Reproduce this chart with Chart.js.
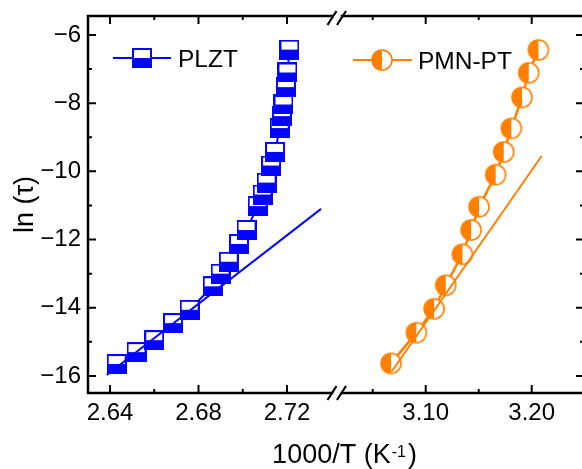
<!DOCTYPE html>
<html>
<head>
<meta charset="utf-8">
<script src="https://cdn.jsdelivr.net/npm/chart.js@4/dist/chart.umd.min.js"></script>
<style>
    html, body { margin: 0; padding: 0; background: #fff; overflow: hidden; }
    #wrap { position: relative; width: 586px; height: 469px; }
</style>
</head>
<body>
<div id="wrap"><canvas id="tau-chart"></canvas></div>
<script>
// PLZT : 1000/T vs ln(tau)
var plztX = [2.6430, 2.6520, 2.6600, 2.6685, 2.6760, 2.6864, 2.6900, 2.6937, 2.6983, 2.7017, 2.7067,
             2.7090, 2.7108, 2.7128, 2.7146, 2.7167, 2.7177, 2.7184, 2.7195, 2.7202, 2.7211];
var plztY = [-15.65, -15.30, -14.95, -14.45, -14.06, -13.37, -13.00, -12.65, -12.13, -11.72, -11.02,
             -10.68, -10.33, -9.83, -9.43, -8.73, -8.38, -8.04, -7.53, -7.10, -6.43];
var plztFitX = [2.6385, 2.7354];
var plztFitY = [-15.97, -11.10];

// PMN-PT
var pmnX = [3.0673, 3.0912, 3.1079, 3.1189, 3.1346, 3.1428, 3.1503, 3.1660, 3.1736, 3.1808, 3.1909, 3.1972, 3.2063];
var pmnY = [-15.63, -14.73, -14.03, -13.34, -12.43, -11.72, -11.04, -10.10, -9.43, -8.74, -7.83, -7.11, -6.44];
var pmnFitX = [3.0679, 3.2094];
var pmnFitY = [-15.87, -9.55];

// axis ticks (broken x axis: two panels)
var leftTicks = [2.64, 2.66, 2.68, 2.70, 2.72];
var leftLabels = ['2.64', '', '2.68', '', '2.72'];
var rightTicks = [3.05, 3.10, 3.15, 3.20];
var rightLabels = ['', '3.10', '', '3.20'];
var yTicks = [-16, -15, -14, -13, -12, -11, -10, -9, -8, -7, -6];
var yLabels = ['\u221216', '', '\u221214', '', '\u221212', '', '\u221210', '', '\u22128', '', '\u22126'];

var BLUE = '#0505ff';
var ORANGE = '#ff8000';
var FONT = "Arial, 'Liberation Sans', sans-serif";

function pairs(xs, ys) {
    return xs.map(function(x, i) { return { x: x, y: ys[i] }; });
}

function squareMarker(color) {
    var c = document.createElement('canvas');
    c.width = 20; c.height = 20;
    var g = c.getContext('2d');
    g.fillStyle = '#fff';
    g.fillRect(0, 0, 20, 20);
    g.fillStyle = color;
    g.fillRect(0, 10, 20, 10);
    g.strokeStyle = color;
    g.lineWidth = 2;
    g.strokeRect(1, 1, 18, 18);
    return c;
}

function halfCircleMarker(color) {
    var c = document.createElement('canvas');
    c.width = 24; c.height = 24;
    var g = c.getContext('2d');
    g.beginPath();
    g.arc(12, 12, 10, 0, Math.PI * 2);
    g.fillStyle = '#fff';
    g.fill();
    g.beginPath();
    g.moveTo(12, 12);
    g.arc(12, 12, 10, Math.PI / 2, Math.PI * 1.5);
    g.closePath();
    g.fillStyle = color;
    g.fill();
    g.beginPath();
    g.arc(12, 12, 10, 0, Math.PI * 2);
    g.strokeStyle = color;
    g.lineWidth = 1.6;
    g.stroke();
    return c;
}

var plztMarker = squareMarker(BLUE);
var pmnMarker = halfCircleMarker(ORANGE);

function setTicks(list) {
    return function(scale) {
        scale.ticks = list.map(function(v) { return { value: v }; });
    };
}

function fitX(s) {
    s.height = 76;
    s.paddingLeft = 0;
    s.paddingRight = 0;
}

// frame, inward ticks, axis break, legend and x title
var framePlugin = {
    id: 'frame',
    afterDraw: function(chart) {
        var ctx = chart.ctx;
        var a = chart.chartArea;
        var sx = chart.scales.x, sx2 = chart.scales.x2, sy = chart.scales.y;
        var brk = sx.right;

        ctx.save();
        ctx.strokeStyle = '#000';
        ctx.lineWidth = 2.5;
        ctx.lineCap = 'square';
        ctx.beginPath();
        ctx.moveTo(brk - 5, a.top); ctx.lineTo(a.left, a.top); ctx.lineTo(a.left, a.bottom); ctx.lineTo(brk - 5, a.bottom);
        ctx.moveTo(brk + 5, a.top); ctx.lineTo(a.right, a.top); ctx.lineTo(a.right, a.bottom); ctx.lineTo(brk + 5, a.bottom);
        ctx.stroke();

        ctx.lineCap = 'butt';
        ctx.lineWidth = 2.2;
        ctx.beginPath();
        [a.top + 2, a.bottom].forEach(function(yy) {
            [brk - 5, brk + 4.5].forEach(function(cx) {
                ctx.moveTo(cx - 4.5, yy + 7);
                ctx.lineTo(cx + 4.5, yy - 7);
            });
        });
        ctx.stroke();

        ctx.lineWidth = 2;
        ctx.beginPath();
        yTicks.forEach(function(v, i) {
            var py = sy.getPixelForValue(v);
            var len = yLabels[i] ? 8 : 4;
            ctx.moveTo(a.left, py); ctx.lineTo(a.left + len, py);
            ctx.moveTo(a.right, py); ctx.lineTo(a.right - len, py);
        });
        [[sx, leftTicks, leftLabels], [sx2, rightTicks, rightLabels]].forEach(function(set) {
            set[1].forEach(function(v, i) {
                var px = set[0].getPixelForValue(v);
                var len = set[2][i] ? 8 : 4;
                ctx.moveTo(px, a.bottom); ctx.lineTo(px, a.bottom - len);
                ctx.moveTo(px, a.top); ctx.lineTo(px, a.top + len);
            });
        });
        ctx.stroke();

        // legend
        ctx.font = '24.5px ' + FONT;
        ctx.textBaseline = 'alphabetic';
        ctx.textAlign = 'left';
        ctx.fillStyle = '#000';
        ctx.lineWidth = 2;

        ctx.strokeStyle = BLUE;
        ctx.beginPath();
        ctx.moveTo(a.left + 25, a.top + 42); ctx.lineTo(a.left + 83, a.top + 42);
        ctx.stroke();
        ctx.drawImage(plztMarker, a.left + 44, a.top + 32);
        ctx.fillText('PLZT', a.left + 90, a.top + 50.5);

        ctx.strokeStyle = ORANGE;
        ctx.beginPath();
        ctx.moveTo(a.left + 265, a.top + 44); ctx.lineTo(a.left + 324, a.top + 44);
        ctx.stroke();
        ctx.drawImage(pmnMarker, a.left + 282, a.top + 32);
        ctx.fillText('PMN-PT', a.left + 330, a.top + 52.5);

        // x title with superscript
        var main = '1000/T (K', sup = '-1', end = ')';
        ctx.font = '27px ' + FONT;
        var w1 = ctx.measureText(main).width, w3 = ctx.measureText(end).width;
        ctx.font = '16px ' + FONT;
        var w2 = ctx.measureText(sup).width + 3;
        var x0 = (a.left + a.right) / 2 + 8.5 - (w1 + w2 + w3) / 2;
        var base = a.bottom + 70;
        ctx.font = '27px ' + FONT;
        ctx.fillText(main, x0, base);
        ctx.fillText(end, x0 + w1 + w2, base);
        ctx.font = '16px ' + FONT;
        ctx.fillText(sup, x0 + w1 + 1, base - 6);
        ctx.restore();
    }
};

var tickFont = { family: FONT, size: 24 };

new Chart(document.getElementById('tau-chart'), {
    type: 'scatter',
    data: {
        datasets: [
            {
                label: 'PLZT fit',
                data: pairs(plztFitX, plztFitY),
                xAxisID: 'x',
                showLine: true,
                borderColor: BLUE,
                borderWidth: 2,
                pointRadius: 0,
                order: 0
            },
            {
                label: 'PMN-PT fit',
                data: pairs(pmnFitX, pmnFitY),
                xAxisID: 'x2',
                showLine: true,
                borderColor: ORANGE,
                borderWidth: 2,
                pointRadius: 0,
                order: 0
            },
            {
                label: 'PLZT',
                data: pairs(plztX, plztY),
                xAxisID: 'x',
                showLine: true,
                borderColor: BLUE,
                borderWidth: 2,
                pointStyle: plztMarker,
                pointRadius: 10,
                order: 1
            },
            {
                label: 'PMN-PT',
                data: pairs(pmnX, pmnY),
                xAxisID: 'x2',
                showLine: true,
                borderColor: ORANGE,
                borderWidth: 2.5,
                pointStyle: pmnMarker,
                pointRadius: 10,
                order: 1
            }
        ]
    },
    options: {
        responsive: true,
        maintainAspectRatio: false,
        animation: false,
        devicePixelRatio: 1,
        layout: {
            autoPadding: false,
            padding: { top: 16, right: 2, left: 0, bottom: 0 }
        },
        plugins: {
            legend: { display: false },
            tooltip: { enabled: false }
        },
        scales: {
            x: {
                type: 'linear',
                position: 'bottom',
                stack: 'brk',
                stackWeight: 249,
                min: 2.63006,
                max: 2.7426,
                afterBuildTicks: setTicks(leftTicks),
                afterFit: fitX,
                grid: { display: false, drawTicks: false },
                border: { display: false },
                ticks: {
                    autoSkip: false,
                    maxRotation: 0,
                    padding: 6,
                    color: '#000',
                    font: tickFont,
                    callback: function(v, i) { return leftLabels[i]; }
                }
            },
            x2: {
                type: 'linear',
                position: 'bottom',
                stack: 'brk',
                stackWeight: 247,
                min: 3.01632,
                max: 3.24934,
                afterBuildTicks: setTicks(rightTicks),
                afterFit: fitX,
                grid: { display: false, drawTicks: false },
                border: { display: false },
                ticks: {
                    autoSkip: false,
                    maxRotation: 0,
                    padding: 6,
                    color: '#000',
                    font: tickFont,
                    callback: function(v, i) { return rightLabels[i]; }
                }
            },
            y: {
                type: 'linear',
                min: -16.5,
                max: -5.445,
                afterBuildTicks: setTicks(yTicks),
                afterFit: function(s) {
                    s.width = 88;
                    s.paddingTop = 0;
                    s.paddingBottom = 0;
                },
                grid: { display: false, drawTicks: false },
                border: { display: false },
                ticks: {
                    autoSkip: false,
                    padding: 7,
                    color: '#000',
                    font: tickFont,
                    callback: function(v, i) { return yLabels[i]; }
                },
                title: {
                    display: true,
                    text: 'ln (\u03c4)',
                    color: '#000',
                    font: { family: FONT, size: 27 },
                    padding: { top: 9, bottom: 0 }
                }
            }
        }
    },
    plugins: [framePlugin]
});
</script>
</body>
</html>
